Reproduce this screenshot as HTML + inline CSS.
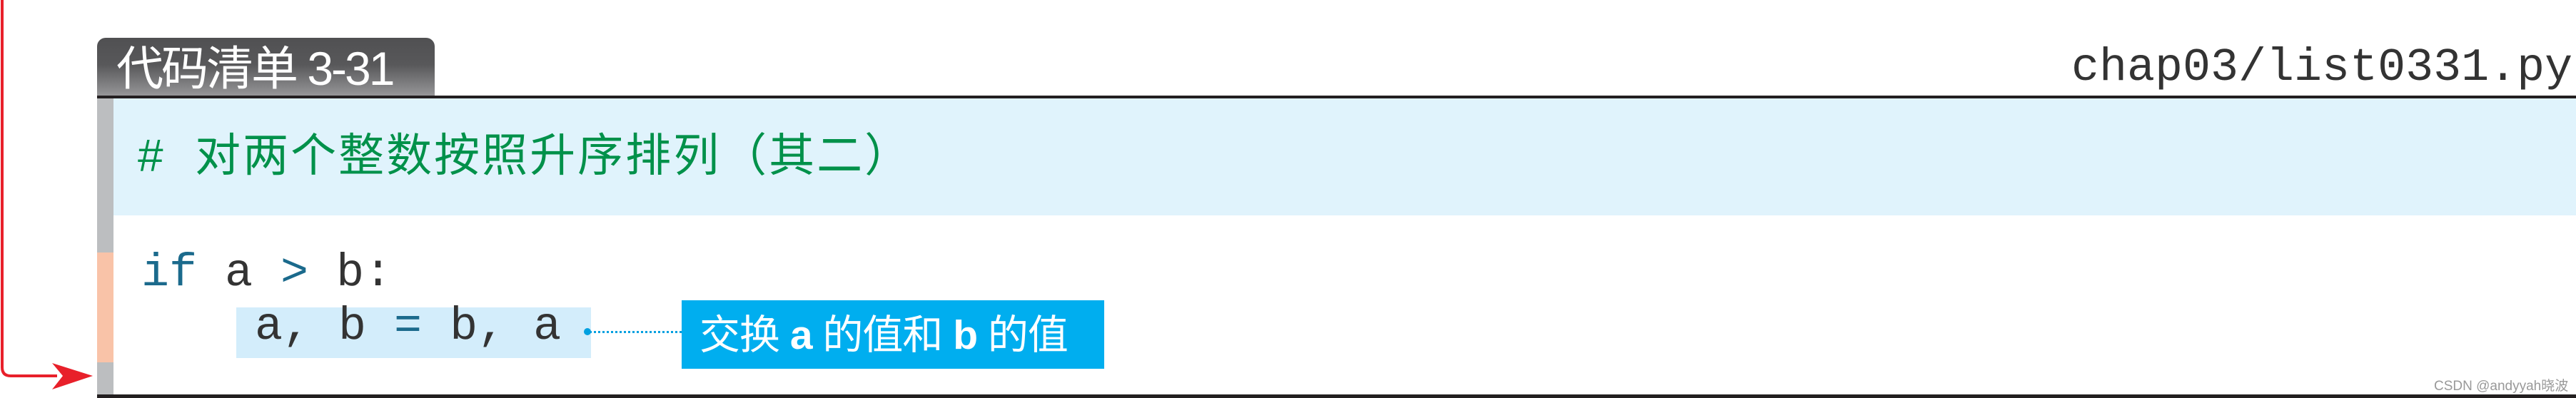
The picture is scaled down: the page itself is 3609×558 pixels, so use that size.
<!DOCTYPE html>
<html><head><meta charset="utf-8"><style>
html,body{margin:0;padding:0;background:#fff;}
body{width:3609px;height:558px;position:relative;overflow:hidden;font-family:"Liberation Sans","Noto Sans CJK SC",sans-serif;}
.a{position:absolute;white-space:nowrap;}
.mono{font-family:"Liberation Mono","Noto Sans CJK SC",monospace;white-space:pre;}
</style></head><body>
<svg class="a" style="left:0;top:0" width="140" height="558">
<path d="M3 0 V515 Q3 527 15 527 H80" fill="none" stroke="#e8202a" stroke-width="4"/>
<polygon points="73,509 130,527 73,546 88,527" fill="#e8202a"/>
</svg>
<div class="a" style="left:136px;top:53px;width:473px;height:84px;border-radius:12px 12px 0 0;background:linear-gradient(#505052 0%,#58585a 45%,#9a9a9c 100%);"></div>
<div class="a" style="left:163px;top:58px;font-size:66px;color:#fff;line-height:76px;letter-spacing:-3px;">代码清单 3-31</div>
<div class="a mono" style="left:2902px;top:60px;font-size:65px;line-height:70px;color:#333;">chap03/list0331.py</div>
<div class="a" style="left:136px;top:134px;width:3473px;height:4px;background:#231f20;"></div>
<div class="a" style="left:159px;top:138px;width:3450px;height:164px;background:#e0f3fc;"></div>
<div class="a" style="left:136px;top:138px;width:23px;height:216px;background:#bcbec0;"></div>
<div class="a" style="left:136px;top:354px;width:23px;height:154px;background:#f9c3a8;"></div>
<div class="a" style="left:136px;top:508px;width:23px;height:45px;background:#bcbec0;"></div>
<div class="a" style="left:136px;top:553px;width:3473px;height:5px;background:#231f20;"></div>
<div class="a" style="left:193px;top:180px;font-size:64px;line-height:76px;color:#00914a;white-space:pre;letter-spacing:3px;">#  对两个整数按照升序排列（其二）</div>
<div class="a mono" style="left:198px;top:345px;font-size:65px;line-height:76px;color:#333;"><span style="color:#1b6a8c">if</span> a <span style="color:#1b6a8c">&gt;</span> b:</div>
<div class="a" style="left:331px;top:431px;width:497px;height:71px;background:#d3edfb;"></div>
<div class="a mono" style="left:357px;top:420px;font-size:65px;line-height:76px;color:#333;">a, b <span style="color:#1b6a8c">=</span> b, a</div>
<div class="a" style="left:818px;top:460px;width:10px;height:10px;border-radius:50%;background:#00a0e0;"></div>
<div class="a" style="left:826px;top:464px;width:129px;border-top:3px dotted #00a0e0;"></div>
<div class="a" style="left:955px;top:421px;width:592px;height:96px;background:#00aeef;"></div>
<div class="a" style="left:980px;top:432px;font-size:57px;line-height:76px;color:#fff;white-space:pre;letter-spacing:-1px;">交换 <b>a</b> 的值和 <b>b</b> 的值</div>
<div class="a" style="left:3410px;top:526px;font-size:19px;color:#999;">CSDN @andyyah晓波</div>
</body></html>
